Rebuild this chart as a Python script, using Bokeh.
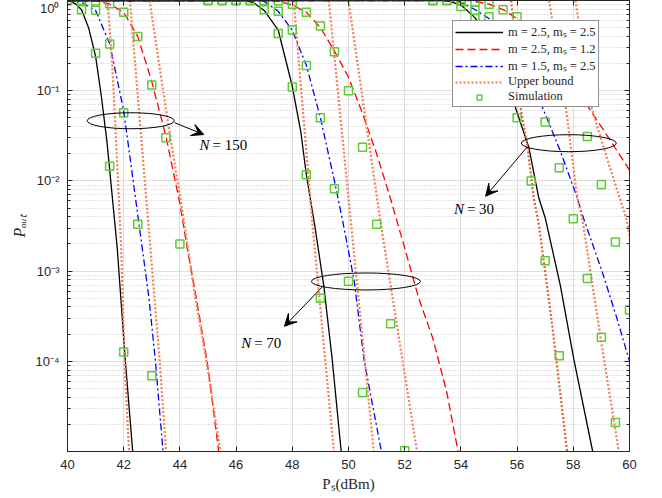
from math import pi
from bokeh.plotting import figure
from bokeh.models import (FixedTicker, CustomJSTickFormatter, LinearAxis, LogAxis,
                          Legend, LegendItem, Label, Arrow, VeeHead)
from bokeh.embed import file_html
from bokeh.resources import INLINE

# ---------------- data ----------------
x_ticks = [40, 42, 44, 46, 48, 50, 52, 54, 56, 58, 60]
y_ticks = [1e-4, 1e-3, 1e-2, 1e-1, 1.0]

legend_labels = ["m = 2.5, mₛ = 2.5", "m = 2.5, mₛ = 1.2", "m = 1.5, mₛ = 2.5",
                 "Upper bound", "Simulation"]
group_labels = ["150", "70", "30"]
x_title = "Pₛ(dBm)"
y_title = "Pₒᵤₜ"

# N = 150
n150_black_x = [40, 40.1, 40.3, 40.5, 40.75, 41.0, 41.2, 41.4, 41.53, 41.77, 42.06, 42.32]
n150_black_y = [1, 0.98, 0.91, 0.79, 0.50, 0.24, 0.089, 0.028, 0.0107, 0.0018, 1.0e-4, 1.0e-5]
n150_red_x = [40, 41.0, 41.5, 42.0, 42.5, 43.0, 43.5, 44.0, 44.26, 44.5, 44.97, 45.38]
n150_red_y = [1, 0.99, 0.91, 0.74, 0.40, 0.126, 0.0316, 0.0056, 0.0018, 7.1e-4, 1.0e-4, 1.0e-5]
n150_blue_x = [40, 40.3, 40.5, 41.0, 41.5, 42.0, 42.5, 42.66, 42.9, 43.13, 43.4]
n150_blue_y = [1, 0.99, 0.955, 0.776, 0.331, 0.060, 0.0042, 0.0018, 5.0e-4, 1.0e-4, 1.0e-5]
n150_ub1_x = [41.42, 41.55, 41.66, 41.77, 41.91, 42.03, 42.19]
n150_ub1_y = [1, 0.316, 0.079, 0.0151, 0.0018, 1.0e-4, 1.0e-5]
n150_ub2_x = [42.22, 42.5, 42.75, 42.95, 43.28, 43.51]
n150_ub2_y = [1, 0.089, 0.01, 0.0018, 1.0e-4, 1.0e-5]
n150_ub3_x = [42.92, 43.5, 44.13, 44.5, 45.0, 45.44]
n150_ub3_y = [1, 0.063, 0.0038, 6.3e-4, 7.9e-5, 1.0e-5]
n150_sim_black_x = [40, 40.5, 41, 41.5, 42]
n150_sim_black_y = [1, 0.79, 0.26, 0.0145, 1.27e-4]
n150_sim_red_x = [40, 40.5, 41, 41.5, 42, 42.5, 43, 43.5, 44]
n150_sim_red_y = [1, 1, 0.99, 0.92, 0.74, 0.40, 0.116, 0.030, 0.0020]
n150_sim_blue_x = [40, 40.5, 41, 41.5, 42, 42.5, 43]
n150_sim_blue_y = [1, 0.98, 0.78, 0.33, 0.057, 0.0033, 6.9e-5]

# N = 70
n70_black_x = [40, 46.3, 46.6, 47.0, 47.5, 48.0, 48.3, 48.5, 48.8, 49.12, 49.42, 49.74]
n70_black_y = [1, 1, 0.955, 0.776, 0.468, 0.112, 0.0355, 0.0117, 0.0032, 6.9e-4, 1.05e-4, 1.0e-5]
n70_red_x = [40, 47.0, 47.5, 48.0, 48.5, 49.0, 49.5, 50.0, 50.5, 51.0, 51.5, 52.0, 52.5, 53.0, 53.5, 53.9]
n70_red_y = [1, 1, 0.977, 0.891, 0.741, 0.501, 0.275, 0.141, 0.056, 0.02, 0.0063, 0.0018,
             5.0e-4, 1.8e-4, 4.5e-5, 1.0e-5]
n70_blue_x = [40, 46.8, 47.0, 47.5, 48.0, 48.5, 49.0, 49.5, 49.8, 50.2, 50.55, 51.17]
n70_blue_y = [1, 1, 0.977, 0.759, 0.468, 0.191, 0.0501, 0.01, 0.0035, 7.9e-4, 1.05e-4, 1.0e-5]
n70_ub1_x = [48.05, 48.4, 48.7, 49.1, 49.48]
n70_ub1_y = [1, 0.05, 0.0038, 1.78e-4, 1.0e-5]
n70_ub2_x = [49.3, 49.7, 50.1, 50.5, 50.9]
n70_ub2_y = [1, 0.056, 0.00316, 1.78e-4, 1.0e-5]
n70_ub3_x = [50.0, 50.6, 51.14, 51.8, 52.44]
n70_ub3_y = [1, 0.05, 0.0035, 1.78e-4, 1.0e-5]
n70_sim_black_x = [45, 45.5, 46, 46.5, 47, 47.5, 48, 48.5, 49]
n70_sim_black_y = [1, 1, 1, 1, 0.79, 0.43, 0.11, 0.0117, 5.0e-4]
n70_sim_red_x = [45, 45.5, 46, 46.5, 47, 47.5, 48, 48.5, 49, 49.5, 50, 50.5, 51, 51.5, 52]
n70_sim_red_y = [1, 1, 1, 1, 1, 0.99, 0.91, 0.74, 0.52, 0.27, 0.10, 0.0236, 0.0033, 2.6e-4, 1.02e-5]
n70_sim_blue_x = [45, 45.5, 46, 46.5, 47, 47.5, 48, 48.5, 49, 49.5, 50, 50.5]
n70_sim_blue_y = [1, 1, 1, 1, 0.98, 0.76, 0.47, 0.19, 0.050, 0.0082, 7.7e-4, 4.5e-5]

# N = 30
n30_black_x = [40, 53.3, 53.6, 54.0, 54.5, 55.0, 55.5, 55.88, 56.42, 56.77, 57.01, 57.54, 58.02, 58.69]
n30_black_y = [1, 1, 0.977, 0.891, 0.646, 0.38, 0.18, 0.074, 0.0234, 0.0065, 0.0038, 6.9e-4, 1.05e-4, 1.0e-5]
n30_red_x = [40, 54.3, 54.5, 55.0, 55.5, 56.0, 56.5, 57.0, 57.5, 58.0, 58.4, 59.21, 60.0]
n30_red_y = [1, 1, 0.977, 0.912, 0.794, 0.631, 0.479, 0.331, 0.219, 0.132, 0.076, 0.0316, 0.0132]
n30_blue_x = [40, 53.8, 54.0, 54.5, 55.0, 55.5, 56.0, 56.5, 56.83, 57.54, 58.14, 58.37, 59.03, 59.56, 60.0]
n30_blue_y = [1, 1, 0.955, 0.794, 0.631, 0.398, 0.24, 0.126, 0.074, 0.0214, 0.0065, 0.0038,
              9.8e-4, 2.95e-4, 1.0e-4]
n30_ub1_x = [55.79, 55.95, 56.10, 56.36, 56.59, 56.78, 57.25, 57.78]
n30_ub1_y = [1, 0.3, 0.071, 0.0251, 0.0065, 0.0032, 2.5e-4, 1.0e-5]
n30_ub2_x = [57.14, 57.72, 58.14, 58.32, 59.0, 59.62]
n30_ub2_y = [1, 0.071, 0.0065, 0.0038, 1.6e-4, 1.0e-5]
n30_ub3_x = [58.08, 58.61, 59.2, 59.89, 60.0]
n30_ub3_y = [1, 0.071, 0.0178, 0.0038, 0.0025]
n30_sim_black_x = [53, 53.5, 54, 54.5, 55, 55.5, 56, 56.5, 57, 57.5]
n30_sim_black_y = [1, 1, 0.86, 0.63, 0.36, 0.16, 0.050, 0.010, 0.0013, 1.15e-4]
n30_sim_red_x = [53, 53.5, 54, 54.5, 55, 55.5, 56, 56.5, 57, 57.5, 58, 58.5, 59, 59.5, 60]
n30_sim_red_y = [1, 1, 1, 0.96, 0.91, 0.79, 0.66, 0.47, 0.29, 0.16, 0.085, 0.031, 0.0091, 0.0021, 3.7e-4]
n30_sim_blue_x = [53, 53.5, 54, 54.5, 55, 55.5, 56, 56.5, 57, 57.5, 58, 58.5, 59, 59.5]
n30_sim_blue_y = [1, 1, 0.99, 0.78, 0.66, 0.40, 0.23, 0.11, 0.045, 0.014, 0.0038, 8.3e-4, 1.85e-4, 2.1e-5]

# ---------------- styles ----------------
AX = "#262626"
BLACK, RED, BLUE = "#000000", "#ff0000", "#0000ff"
UB, UB_DARK = "#f47f52", "#e2602a"
GREEN = "#5ccc32"

p = figure(width=654, height=494, x_range=(40, 60), y_range=(1e-5, 1),
           y_axis_type="log", output_backend="svg", toolbar_location=None,
           min_border_left=67, min_border_right=25, min_border_top=0, min_border_bottom=42)
p.background_fill_color = "white"
p.border_fill_color = "white"
p.outline_line_color = AX
p.outline_line_width = 1

xt = FixedTicker(ticks=x_ticks)
minor = [k * 10.0 ** e for e in range(-5, 0) for k in range(2, 10)]
yt = FixedTicker(ticks=y_ticks, minor_ticks=minor)
p.xaxis.ticker = xt
p.yaxis.ticker = yt
p.xgrid.ticker = xt
p.ygrid.ticker = yt

sup_js = """
const s = {"0":"⁰","1":"¹","2":"²","3":"³","4":"⁴","5":"⁵","6":"⁶","7":"⁷","8":"⁸","9":"⁹","-":"⁻"};
const e = Math.round(Math.log10(tick));
return "10" + String(e).split("").map(c => s[c]).join("");
"""
p.yaxis.formatter = CustomJSTickFormatter(code=sup_js)

for ax in (p.xaxis[0], p.yaxis[0]):
    ax.axis_line_color = AX
    ax.major_tick_line_color = AX
    ax.minor_tick_line_color = AX
    ax.major_tick_in = 5
    ax.major_tick_out = 0
    ax.minor_tick_in = 3
    ax.minor_tick_out = 0
    ax.major_label_text_font = "Liberation Sans"
    ax.major_label_text_font_size = "13px"
    ax.major_label_text_color = AX
    ax.major_label_standoff = 8
    ax.axis_label_text_font = "Liberation Serif"
    ax.axis_label_text_color = AX
    ax.axis_label_standoff = 4
p.xaxis.minor_tick_line_color = None

p.xaxis.axis_label = x_title
p.xaxis.axis_label_text_font_size = "15px"
p.xaxis.axis_label_text_font_style = "normal"
p.yaxis.axis_label = y_title
p.yaxis.axis_label_text_font_size = "16px"
p.yaxis.axis_label_text_font_style = "italic"

# mirrored ticks (top / right), no labels
blank = CustomJSTickFormatter(code="return '';")
top = LinearAxis(ticker=xt, formatter=blank, major_tick_in=5, major_tick_out=0,
                 minor_tick_line_color=None, axis_line_color=AX, major_tick_line_color=AX,
                 major_label_standoff=0, major_label_text_font_size="0px")
right = LogAxis(ticker=yt, formatter=blank, major_tick_in=5, major_tick_out=0,
                minor_tick_in=3, minor_tick_out=0, axis_line_color=AX,
                major_tick_line_color=AX, minor_tick_line_color=AX,
                major_label_standoff=0, major_label_text_font_size="0px")
p.add_layout(top, "above")
p.add_layout(right, "right")

p.xgrid.grid_line_color = "#dedede"
p.ygrid.grid_line_color = "#dedede"
p.ygrid.minor_grid_line_color = "#c8c8c8"
p.ygrid.minor_grid_line_dash = "1 2"

LW = 1.3
DASH = "8 4"
DASHDOT = "7 3 2 3"
DOT = "2 2"

groups = [
    (n150_black_x, n150_black_y, n150_red_x, n150_red_y, n150_blue_x, n150_blue_y,
     [(n150_ub1_x, n150_ub1_y, UB), (n150_ub2_x, n150_ub2_y, UB), (n150_ub3_x, n150_ub3_y, UB)],
     [(n150_sim_black_x, n150_sim_black_y), (n150_sim_red_x, n150_sim_red_y), (n150_sim_blue_x, n150_sim_blue_y)]),
    (n70_black_x, n70_black_y, n70_red_x, n70_red_y, n70_blue_x, n70_blue_y,
     [(n70_ub1_x, n70_ub1_y, UB), (n70_ub2_x, n70_ub2_y, UB), (n70_ub3_x, n70_ub3_y, UB)],
     [(n70_sim_black_x, n70_sim_black_y), (n70_sim_red_x, n70_sim_red_y), (n70_sim_blue_x, n70_sim_blue_y)]),
    (n30_black_x, n30_black_y, n30_red_x, n30_red_y, n30_blue_x, n30_blue_y,
     [(n30_ub1_x, n30_ub1_y, UB_DARK), (n30_ub2_x, n30_ub2_y, UB), (n30_ub3_x, n30_ub3_y, UB)],
     [(n30_sim_black_x, n30_sim_black_y), (n30_sim_red_x, n30_sim_red_y), (n30_sim_blue_x, n30_sim_blue_y)]),
]

r_black = r_red = r_blue = r_ub = r_sim = None
for (bx, by, rx, ry, blx, bly, ubs, sims) in groups:
    rb = p.line(bx, by, line_color=BLACK, line_width=LW)
    rr = p.line(rx, ry, line_color=RED, line_width=LW, line_dash=DASH)
    rbl = p.line(blx, bly, line_color=BLUE, line_width=LW, line_dash=DASHDOT)
    for ux, uy, uc in ubs:
        ru = p.line(ux, uy, line_color=uc, line_width=2.2, line_dash=DOT)
        r_ub = r_ub or ru
    for sx, sy in sims:
        rs = p.scatter(sx, sy, marker="square", size=8, fill_color=None,
                       line_color=GREEN, line_width=1.5)
        r_sim = r_sim or rs
    r_black = r_black or rb
    r_red = r_red or rr
    r_blue = r_blue or rbl

# ellipses + arrows + N labels
ell_x = [42.25, 50.62, 57.84]
ell_y = [10 ** -1.333, 10 ** -3.115, 10 ** -1.582]
ell_w = [87, 109, 95]
ell_h = [16, 17, 17]
p.ellipse(ell_x, ell_y, width=ell_w, height=ell_h, width_units="screen",
          height_units="screen", fill_color=None, line_color="black", line_width=1)

arrows = [((43.81, 10 ** -1.355), (44.85, 10 ** -1.486)),
          ((49.06, 10 ** -3.177), (47.72, 10 ** -3.612)),
          ((56.36, 10 ** -1.623), (54.88, 10 ** -2.17))]
for (xs, ys), (xe, ye) in arrows:
    p.add_layout(Arrow(end=VeeHead(size=12, fill_color="black", line_color="black", line_width=1),
                       x_start=xs, y_start=ys, x_end=xe, y_end=ye,
                       line_color="black", line_width=1))

n_pos = [(44.70, 10 ** -1.60), (46.18, 10 ** -3.80), (53.75, 10 ** -2.31)]
for (nx, ny), lab in zip(n_pos, group_labels):
    p.add_layout(Label(x=nx, y=ny, text="N", text_font="Liberation Serif",
                       text_font_style="italic", text_font_size="15px",
                       text_baseline="middle", text_color="black"))
    p.add_layout(Label(x=nx, y=ny, x_offset=13, text="= " + lab, text_font="Liberation Serif",
                       text_font_size="15px", text_baseline="middle", text_color="black"))

legend = Legend(items=[LegendItem(label=legend_labels[0], renderers=[r_black]),
                       LegendItem(label=legend_labels[1], renderers=[r_red]),
                       LegendItem(label=legend_labels[2], renderers=[r_blue]),
                       LegendItem(label=legend_labels[3], renderers=[r_ub]),
                       LegendItem(label=legend_labels[4], renderers=[r_sim])],
                location=(385, 344))
legend.label_text_font = "Liberation Serif"
legend.label_text_font_size = "12.5px"
legend.label_text_color = AX
legend.glyph_width = 48
legend.glyph_height = 12
legend.label_height = 12
legend.label_standoff = 5
legend.spacing = 0
legend.padding = 2
legend.margin = 0
legend.border_line_color = AX
legend.border_line_width = 1
legend.background_fill_color = "white"
legend.background_fill_alpha = 1
p.add_layout(legend)

open("out.html", "w").write(file_html(p, INLINE))
